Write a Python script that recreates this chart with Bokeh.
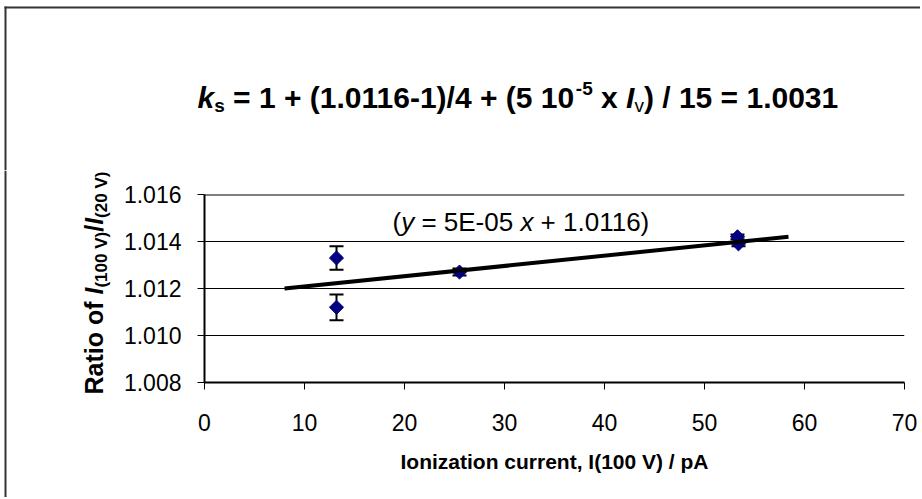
import math
from bokeh.plotting import figure
from bokeh.layouts import column, row
from bokeh.models import Label, Whisker, TeeHead, ColumnDataSource, Span, Range1d, FixedTicker, PrintfTickFormatter
from bokeh.embed import file_html
from bokeh.resources import INLINE

# ---------------- data ----------------
current = [13.2, 13.2, 25.5, 53.3, 53.4]
ratio = [1.0133, 1.0112, 1.0127, 1.0142, 1.0139]
ratio_err = [0.0005, 0.00055, 0.00015, 0.0001, 0.0001]
trend_x = [8.0, 58.4]
trend_y = [1.0120, 1.0142]
x_ticks = [0, 10, 20, 30, 40, 50, 60, 70]
y_ticks = [1.008, 1.010, 1.012, 1.014, 1.016]
x_min, x_max = 0, 70
y_min, y_max = 1.008, 1.016

# ---------------- layout (page pixels) ----------------
TOTAL_W, TITLE_H, BODY_H = 920, 170, 327
YW = 120
PW = TOTAL_W - YW
FL, FT, FW, FH = 204, 194, 700, 188
ML = FL - YW
MR = PW - ML - FW
MT = FT - TITLE_H
MB = BODY_H - MT - FH
FONT = "Liberation Sans"
BASE_FIX = 0.35  # empirical baseline correction (em)
BORDER = "#333333"

REG = {' ': 278, '(': 333, ')': 333, '+': 584, '-': 333, '.': 278, '/': 278, '=': 584,
       'E': 667, 'V': 667, 'x': 500, 'y': 500, 'v': 500, 'A': 667, 'I': 278}
BOLD = {' ': 278, '(': 333, ')': 333, '+': 584, '-': 333, '.': 278, '/': 278, '=': 584,
        ',': 278, 'I': 278, 'R': 722, 'V': 667, 'A': 722, 'a': 556, 'c': 556, 'e': 556,
        'f': 333, 'i': 278, 'k': 556, 'l': 278, 'n': 611, 'o': 611, 'p': 611, 'r': 389,
        's': 556, 't': 333, 'u': 611, 'v': 556, 'x': 556, 'z': 500}


def tw(s, size, style):
    table = BOLD if "bold" in style else REG
    return sum(table.get(c, 556) for c in s) * size / 1000.0


def blank(w, h):
    f = figure(width=w, height=h, x_range=Range1d(0, w), y_range=Range1d(h, 0),
               output_backend="svg", toolbar_location=None,
               x_axis_location=None, y_axis_location=None,
               min_border=0, min_border_left=0, min_border_right=0,
               min_border_top=0, min_border_bottom=0)
    f.xgrid.visible = False
    f.ygrid.visible = False
    f.outline_line_color = None
    f.background_fill_color = "white"
    f.border_fill_color = "white"
    return f


def put(fig, px, py, text, size, style, angle=0.0, align="left"):
    fig.add_layout(Label(x=px, y=py, x_units="data", y_units="data", text=text,
                         text_font=FONT, text_font_size=f"{size}px", text_font_style=style,
                         text_color="black", text_baseline="alphabetic", text_align=align,
                         angle=angle))


def rich(fig, px, py, pieces, angle=0.0, conv=None):
    pos = 0.0
    for text, size, style, shift in pieces:
        lead = len(text) - len(text.lstrip(" "))
        core = text.strip(" ")
        off = tw(" " * lead, size, style)
        fix = BASE_FIX * size
        if core:
            if angle == 0.0:
                x, y = px + pos + off, py + shift - fix
            else:
                x, y = px + shift - fix, py - pos - off
            if conv is not None:
                x, y = conv(x, y)
            put(fig, x, y, core, size, style, angle=angle)
        pos += tw(text, size, style)


# ---------------- title panel ----------------
tfig = blank(TOTAL_W, TITLE_H)
tfig.segment(x0=[5, 4], y0=[6, 7], x1=[5, TOTAL_W], y1=[TITLE_H, 7],
             line_color=BORDER, line_width=2)
T, S = 30, 19
rich(tfig, 197, 107, [
    ("k", T, "bold italic", 0),
    ("s", S, "bold", 5),
    (" = 1 + (1.0116-1)/4 + (5 10", T, "bold", 0),
    ("-5", S, "bold", -12),
    (" x ", T, "bold", 0),
    ("I", T, "bold italic", 0),
    ("v", S, "normal", 5),
    (") / 15 = 1.0031", T, "bold", 0),
])

# ---------------- y-axis title panel ----------------
yfig = blank(YW, BODY_H)
yfig.segment(x0=[5], y0=[0], x1=[5], y1=[BODY_H], line_color=BORDER, line_width=2)
YA, YS = 25, 17
rich(yfig, 102, 394 - TITLE_H, [
    ("Ratio of ", YA, "bold", 0),
    ("I", YA, "bold italic", 0),
    ("(100 V)", YS, "bold", 5),
    ("/", YA, "bold", 0),
    ("I", YA, "bold italic", 0),
    ("(20 V)", YS, "bold", 5),
], angle=math.pi / 2)

# ---------------- main plot ----------------
p = figure(width=PW, height=BODY_H, x_range=Range1d(x_min, x_max), y_range=Range1d(y_min, y_max),
           output_backend="svg", toolbar_location=None,
           min_border_left=ML, min_border_right=MR, min_border_top=MT, min_border_bottom=MB)
p.outline_line_color = None
p.background_fill_color = "white"
p.border_fill_color = "white"

for ax in (p.xaxis[0], p.yaxis[0]):
    ax.axis_line_width = 2
    ax.axis_line_color = "black"
    ax.major_tick_line_color = "black"
    ax.major_tick_line_width = 1
    ax.major_tick_out = 7
    ax.major_tick_in = 0
    ax.minor_tick_line_color = None
    ax.major_label_text_font = FONT
    ax.major_label_text_font_size = "23px"
    ax.major_label_text_color = "black"

p.xaxis.ticker = FixedTicker(ticks=x_ticks)
p.yaxis.ticker = FixedTicker(ticks=y_ticks)
p.yaxis.formatter = PrintfTickFormatter(format="%.3f")
p.xaxis.major_label_standoff = 24
p.yaxis.major_label_standoff = 16
p.xaxis.axis_label = "Ionization current, I(100 V) / pA"
p.xaxis.axis_label_text_font = FONT
p.xaxis.axis_label_text_font_size = "21px"
p.xaxis.axis_label_text_font_style = "bold"
p.xaxis.axis_label_text_color = "black"
p.xaxis.axis_label_standoff = 16

p.xgrid.visible = False
p.ygrid.grid_line_color = "black"
p.ygrid.grid_line_width = 1
p.add_layout(Span(location=y_max, dimension="width", line_color="black", line_width=2))

src = ColumnDataSource(dict(x=current, y=ratio,
                            upper=[r + e for r, e in zip(ratio, ratio_err)],
                            lower=[r - e for r, e in zip(ratio, ratio_err)]))
p.add_layout(Whisker(source=src, base="x", upper="upper", lower="lower", dimension="height",
                     line_color="black", line_width=2,
                     upper_head=TeeHead(size=14, line_width=2, line_color="black"),
                     lower_head=TeeHead(size=14, line_width=2, line_color="black")))

p.scatter("x", "y", source=src, marker="square", angle=math.pi / 4, size=10,
          fill_color="#000080", line_color="#000080")

p.line(trend_x, trend_y, line_color="black", line_width=4)


def page_to_data(px, py):
    x = x_min + (px - FL) * (x_max - x_min) / FW
    y = y_min + (FT + FH - py) * (y_max - y_min) / FH
    return x, y


E = 26
rich(p, 392, 231, [
    ("(", E, "normal", 0),
    ("y", E, "italic", 0),
    (" = 5E-05 ", E, "normal", 0),
    ("x", E, "italic", 0),
    (" + 1.0116)", E, "normal", 0),
], conv=page_to_data)

layout = column(tfig, row(column(yfig), p, spacing=0), spacing=0)
open("out.html", "w").write(file_html(layout, INLINE))
